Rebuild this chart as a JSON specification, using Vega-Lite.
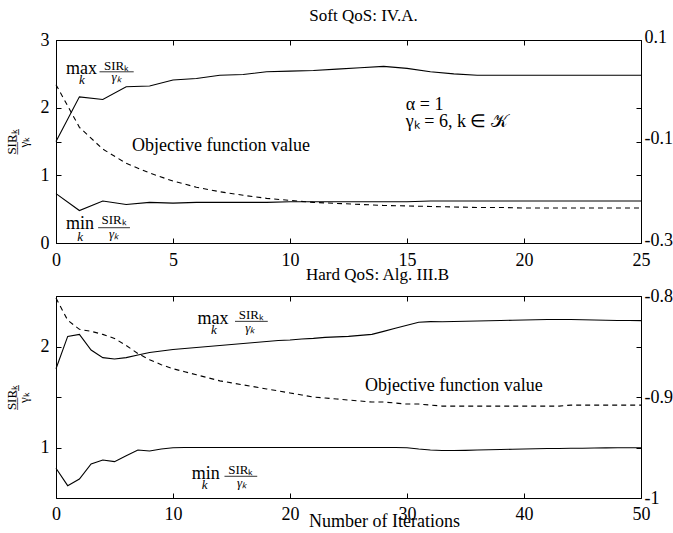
{
  "$schema": "https://vega.github.io/schema/vega-lite/v6.json",
  "background": "white",
  "padding": {"left": 4, "top": 6, "right": 0, "bottom": 0},
  "spacing": -5,
  "config": {
    "font": "Liberation Serif",
    "view": {"stroke": "black", "strokeWidth": 1},
    "axis": {
      "grid": false,
      "domain": false,
      "tickColor": "black",
      "tickSize": -5,
      "labelColor": "black",
      "labelFont": "Liberation Serif",
      "labelFontSize": 18,
      "labelPadding": 12,
      "titleFont": "Liberation Serif",
      "titleColor": "black",
      "titleFontWeight": "normal"
    },
    "title": {"font": "Liberation Serif", "fontSize": 17, "fontWeight": "normal", "color": "black", "offset": 3}
  },
  "datasets": {
    "topLines": [
      {"it": 0, "v": 1.50, "s": "max"}, {"it": 1, "v": 2.16, "s": "max"}, {"it": 2, "v": 2.12, "s": "max"}, {"it": 3, "v": 2.31, "s": "max"},
      {"it": 4, "v": 2.32, "s": "max"}, {"it": 5, "v": 2.41, "s": "max"}, {"it": 6, "v": 2.43, "s": "max"}, {"it": 7, "v": 2.48, "s": "max"},
      {"it": 8, "v": 2.49, "s": "max"}, {"it": 9, "v": 2.53, "s": "max"}, {"it": 10, "v": 2.54, "s": "max"}, {"it": 11, "v": 2.55, "s": "max"},
      {"it": 12, "v": 2.57, "s": "max"}, {"it": 13, "v": 2.59, "s": "max"}, {"it": 14, "v": 2.61, "s": "max"}, {"it": 15, "v": 2.58, "s": "max"},
      {"it": 16, "v": 2.53, "s": "max"}, {"it": 17, "v": 2.50, "s": "max"}, {"it": 18, "v": 2.48, "s": "max"}, {"it": 19, "v": 2.48, "s": "max"},
      {"it": 20, "v": 2.48, "s": "max"}, {"it": 21, "v": 2.48, "s": "max"}, {"it": 22, "v": 2.48, "s": "max"}, {"it": 23, "v": 2.48, "s": "max"},
      {"it": 24, "v": 2.48, "s": "max"}, {"it": 25, "v": 2.48, "s": "max"},
      {"it": 0, "v": 0.73, "s": "min"}, {"it": 1, "v": 0.48, "s": "min"}, {"it": 2, "v": 0.62, "s": "min"}, {"it": 3, "v": 0.57, "s": "min"},
      {"it": 4, "v": 0.60, "s": "min"}, {"it": 5, "v": 0.59, "s": "min"}, {"it": 6, "v": 0.60, "s": "min"}, {"it": 7, "v": 0.60, "s": "min"},
      {"it": 8, "v": 0.60, "s": "min"}, {"it": 9, "v": 0.60, "s": "min"}, {"it": 10, "v": 0.61, "s": "min"}, {"it": 11, "v": 0.61, "s": "min"},
      {"it": 12, "v": 0.61, "s": "min"}, {"it": 13, "v": 0.61, "s": "min"}, {"it": 14, "v": 0.61, "s": "min"}, {"it": 15, "v": 0.61, "s": "min"},
      {"it": 16, "v": 0.62, "s": "min"}, {"it": 17, "v": 0.62, "s": "min"}, {"it": 18, "v": 0.62, "s": "min"}, {"it": 19, "v": 0.62, "s": "min"},
      {"it": 20, "v": 0.62, "s": "min"}, {"it": 21, "v": 0.62, "s": "min"}, {"it": 22, "v": 0.62, "s": "min"}, {"it": 23, "v": 0.62, "s": "min"},
      {"it": 24, "v": 0.62, "s": "min"}, {"it": 25, "v": 0.62, "s": "min"}
    ],
    "topObj": [
      {"it": 0, "v": 0.012}, {"it": 1, "v": -0.072}, {"it": 2, "v": -0.115}, {"it": 3, "v": -0.143}, {"it": 4, "v": -0.162},
      {"it": 5, "v": -0.178}, {"it": 6, "v": -0.190}, {"it": 7, "v": -0.199}, {"it": 8, "v": -0.206}, {"it": 9, "v": -0.212},
      {"it": 10, "v": -0.216}, {"it": 11, "v": -0.220}, {"it": 12, "v": -0.222}, {"it": 13, "v": -0.224}, {"it": 14, "v": -0.226},
      {"it": 15, "v": -0.227}, {"it": 16, "v": -0.228}, {"it": 17, "v": -0.229}, {"it": 18, "v": -0.230}, {"it": 19, "v": -0.230},
      {"it": 20, "v": -0.231}, {"it": 21, "v": -0.231}, {"it": 22, "v": -0.231}, {"it": 23, "v": -0.231}, {"it": 24, "v": -0.231},
      {"it": 25, "v": -0.231}
    ],
    "botLines": [
      {"it": 0, "v": 1.78, "s": "max"}, {"it": 1, "v": 2.10, "s": "max"}, {"it": 2, "v": 2.12, "s": "max"}, {"it": 3, "v": 1.965, "s": "max"},
      {"it": 4, "v": 1.89, "s": "max"}, {"it": 5, "v": 1.876, "s": "max"}, {"it": 6, "v": 1.89, "s": "max"}, {"it": 7, "v": 1.915, "s": "max"},
      {"it": 8, "v": 1.94, "s": "max"}, {"it": 9, "v": 1.955, "s": "max"}, {"it": 10, "v": 1.97, "s": "max"}, {"it": 11, "v": 1.98, "s": "max"},
      {"it": 12, "v": 1.99, "s": "max"}, {"it": 13, "v": 2.00, "s": "max"}, {"it": 14, "v": 2.01, "s": "max"}, {"it": 15, "v": 2.02, "s": "max"},
      {"it": 16, "v": 2.03, "s": "max"}, {"it": 17, "v": 2.04, "s": "max"}, {"it": 18, "v": 2.05, "s": "max"}, {"it": 19, "v": 2.06, "s": "max"},
      {"it": 20, "v": 2.065, "s": "max"}, {"it": 21, "v": 2.075, "s": "max"}, {"it": 22, "v": 2.08, "s": "max"}, {"it": 23, "v": 2.09, "s": "max"},
      {"it": 24, "v": 2.095, "s": "max"}, {"it": 25, "v": 2.10, "s": "max"}, {"it": 26, "v": 2.11, "s": "max"}, {"it": 27, "v": 2.12, "s": "max"},
      {"it": 28, "v": 2.15, "s": "max"}, {"it": 29, "v": 2.18, "s": "max"}, {"it": 30, "v": 2.21, "s": "max"}, {"it": 31, "v": 2.24, "s": "max"},
      {"it": 32, "v": 2.246, "s": "max"}, {"it": 33, "v": 2.245, "s": "max"}, {"it": 34, "v": 2.247, "s": "max"}, {"it": 35, "v": 2.25, "s": "max"},
      {"it": 36, "v": 2.252, "s": "max"}, {"it": 37, "v": 2.255, "s": "max"}, {"it": 38, "v": 2.257, "s": "max"}, {"it": 39, "v": 2.26, "s": "max"},
      {"it": 40, "v": 2.262, "s": "max"}, {"it": 41, "v": 2.265, "s": "max"}, {"it": 42, "v": 2.267, "s": "max"}, {"it": 43, "v": 2.268, "s": "max"},
      {"it": 44, "v": 2.267, "s": "max"}, {"it": 45, "v": 2.265, "s": "max"}, {"it": 46, "v": 2.263, "s": "max"}, {"it": 47, "v": 2.26, "s": "max"},
      {"it": 48, "v": 2.258, "s": "max"}, {"it": 49, "v": 2.257, "s": "max"}, {"it": 50, "v": 2.256, "s": "max"},
      {"it": 0, "v": 0.794, "s": "min"}, {"it": 1, "v": 0.622, "s": "min"}, {"it": 2, "v": 0.688, "s": "min"}, {"it": 3, "v": 0.837, "s": "min"},
      {"it": 4, "v": 0.876, "s": "min"}, {"it": 5, "v": 0.86, "s": "min"}, {"it": 6, "v": 0.919, "s": "min"}, {"it": 7, "v": 0.975, "s": "min"},
      {"it": 8, "v": 0.965, "s": "min"}, {"it": 9, "v": 0.985, "s": "min"}, {"it": 10, "v": 0.998, "s": "min"}, {"it": 11, "v": 1.0, "s": "min"},
      {"it": 12, "v": 1.0, "s": "min"}, {"it": 13, "v": 1.0, "s": "min"}, {"it": 14, "v": 1.0, "s": "min"}, {"it": 15, "v": 1.0, "s": "min"},
      {"it": 16, "v": 1.0, "s": "min"}, {"it": 17, "v": 1.0, "s": "min"}, {"it": 18, "v": 1.0, "s": "min"}, {"it": 19, "v": 1.0, "s": "min"},
      {"it": 20, "v": 1.0, "s": "min"}, {"it": 21, "v": 1.0, "s": "min"}, {"it": 22, "v": 1.0, "s": "min"}, {"it": 23, "v": 1.0, "s": "min"},
      {"it": 24, "v": 1.0, "s": "min"}, {"it": 25, "v": 1.0, "s": "min"}, {"it": 26, "v": 1.0, "s": "min"}, {"it": 27, "v": 1.0, "s": "min"},
      {"it": 28, "v": 1.0, "s": "min"}, {"it": 29, "v": 1.0, "s": "min"}, {"it": 30, "v": 0.998, "s": "min"}, {"it": 31, "v": 0.985, "s": "min"},
      {"it": 32, "v": 0.975, "s": "min"}, {"it": 33, "v": 0.97, "s": "min"}, {"it": 34, "v": 0.97, "s": "min"}, {"it": 35, "v": 0.972, "s": "min"},
      {"it": 36, "v": 0.975, "s": "min"}, {"it": 37, "v": 0.978, "s": "min"}, {"it": 38, "v": 0.98, "s": "min"}, {"it": 39, "v": 0.983, "s": "min"},
      {"it": 40, "v": 0.985, "s": "min"}, {"it": 41, "v": 0.988, "s": "min"}, {"it": 42, "v": 0.99, "s": "min"}, {"it": 43, "v": 0.99, "s": "min"},
      {"it": 44, "v": 0.992, "s": "min"}, {"it": 45, "v": 0.993, "s": "min"}, {"it": 46, "v": 0.995, "s": "min"}, {"it": 47, "v": 0.996, "s": "min"},
      {"it": 48, "v": 0.997, "s": "min"}, {"it": 49, "v": 0.998, "s": "min"}, {"it": 50, "v": 0.998, "s": "min"}
    ],
    "botObj": [
      {"it": 0, "v": -0.802}, {"it": 1, "v": -0.824}, {"it": 2, "v": -0.833}, {"it": 3, "v": -0.835}, {"it": 4, "v": -0.838},
      {"it": 5, "v": -0.842}, {"it": 6, "v": -0.849}, {"it": 7, "v": -0.857}, {"it": 8, "v": -0.863}, {"it": 9, "v": -0.868},
      {"it": 10, "v": -0.872}, {"it": 11, "v": -0.875}, {"it": 12, "v": -0.878}, {"it": 13, "v": -0.881}, {"it": 14, "v": -0.884},
      {"it": 15, "v": -0.886}, {"it": 16, "v": -0.888}, {"it": 17, "v": -0.890}, {"it": 18, "v": -0.892}, {"it": 19, "v": -0.894},
      {"it": 20, "v": -0.896}, {"it": 21, "v": -0.898}, {"it": 22, "v": -0.900}, {"it": 23, "v": -0.901}, {"it": 24, "v": -0.902},
      {"it": 25, "v": -0.903}, {"it": 26, "v": -0.904}, {"it": 27, "v": -0.905}, {"it": 28, "v": -0.905}, {"it": 29, "v": -0.906},
      {"it": 30, "v": -0.907}, {"it": 31, "v": -0.907}, {"it": 32, "v": -0.908}, {"it": 33, "v": -0.909}, {"it": 34, "v": -0.909},
      {"it": 35, "v": -0.909}, {"it": 36, "v": -0.909}, {"it": 37, "v": -0.909}, {"it": 38, "v": -0.909}, {"it": 39, "v": -0.909},
      {"it": 40, "v": -0.909}, {"it": 41, "v": -0.909}, {"it": 42, "v": -0.909}, {"it": 43, "v": -0.909}, {"it": 44, "v": -0.908},
      {"it": 45, "v": -0.908}, {"it": 46, "v": -0.908}, {"it": 47, "v": -0.908}, {"it": 48, "v": -0.908}, {"it": 49, "v": -0.908},
      {"it": 50, "v": -0.908}
    ],
    "topAnn": [
      {"x": 0.43, "y": 2.50, "t": "max", "role": "op"},
      {"x": 0.43, "y": 0.207, "t": "min", "role": "op"},
      {"x": 3.25, "y": 1.36, "t": "Objective function value", "role": "op"},
      {"x": 14.95, "y": 1.97, "t": "α = 1", "role": "op"},
      {"x": 14.95, "y": 1.71, "t": "γₖ = 6, k ∈ 𝒦", "role": "op"},
      {"x": 2.59, "y": 2.556, "t": "SIRₖ", "role": "num"},
      {"x": 2.48, "y": 0.281, "t": "SIRₖ", "role": "num"},
      {"x": 1.11, "y": 2.35, "t": "k", "role": "it"},
      {"x": 2.59, "y": 2.40, "t": "γₖ", "role": "it"},
      {"x": 1.03, "y": 0.03, "t": "k", "role": "it"},
      {"x": 2.48, "y": 0.079, "t": "γₖ", "role": "it"}
    ],
    "topBars": [
      {"x": 1.86, "x2": 3.32, "y": 2.53},
      {"x": 1.80, "x2": 3.16, "y": 0.226}
    ],
    "botAnn": [
      {"x": 12.1, "y": 2.223, "t": "max", "role": "op"},
      {"x": 11.6, "y": 0.688, "t": "min", "role": "op"},
      {"x": 26.4, "y": 1.56, "t": "Objective function value", "role": "op"},
      {"x": 16.7, "y": 2.272, "t": "SIRₖ", "role": "num"},
      {"x": 15.8, "y": 0.738, "t": "SIRₖ", "role": "num"},
      {"x": 13.5, "y": 2.124, "t": "k", "role": "it"},
      {"x": 16.6, "y": 2.143, "t": "γₖ", "role": "it"},
      {"x": 12.7, "y": 0.589, "t": "k", "role": "it"},
      {"x": 15.9, "y": 0.609, "t": "γₖ", "role": "it"}
    ],
    "botBars": [
      {"x": 15.3, "x2": 18.1, "y": 2.249},
      {"x": 14.4, "x2": 17.2, "y": 0.715}
    ]
  },
  "vconcat": [
    {
      "title": {"text": "Soft QoS: IV.A.", "dx": 15},
      "width": 585,
      "height": 203,
      "layer": [
        {
          "data": {"name": "topLines"},
          "mark": {"type": "line", "color": "black", "strokeWidth": 1.1},
          "encoding": {
            "x": {"field": "it", "type": "quantitative", "scale": {"domain": [0, 25], "nice": false},
                  "axis": {"orient": "bottom", "values": [0, 5, 10, 15, 20, 25], "title": null, "labelPadding": 13, "labelFlush": false}},
            "y": {"field": "v", "type": "quantitative", "scale": {"domain": [0, 3], "nice": false, "zero": false},
                  "axis": {"orient": "left", "values": [0, 1, 2, 3], "title": ["S̲I̲R̲ₖ̲", "γₖ"], "titleFontSize": 13, "titleLineHeight": 12, "titlePadding": 10, "labelFlush": false}},
            "detail": {"field": "s"}
          }
        },
        {
          "data": {"name": "topObj"},
          "mark": {"type": "line", "color": "black", "strokeWidth": 1.1, "strokeDash": [5, 4]},
          "encoding": {
            "x": {"field": "it", "type": "quantitative", "scale": {"domain": [0, 25], "nice": false}, "axis": null},
            "y": {"field": "v", "type": "quantitative", "scale": {"domain": [-0.3, 0.1], "nice": false, "zero": false},
                  "axis": {"orient": "right", "values": [-0.3, -0.1, 0.1], "title": null, "labelFlush": false, "labelPadding": 8, "labelBaseline": "alphabetic", "labelOffset": 2,
                           "labelExpr": "replace(datum.label, '\u2212', '-')"}}
          }
        },
        {
          "data": {"name": "topLines"},
          "mark": {"type": "line", "opacity": 0},
          "encoding": {
            "x": {"field": "it", "type": "quantitative", "scale": {"domain": [0, 25], "nice": false},
                  "axis": {"orient": "top", "values": [0, 5, 10, 15, 20, 25], "labels": false, "title": null}},
            "y": {"field": "v", "type": "quantitative", "scale": {"domain": [0, 3], "nice": false, "zero": false},
                  "axis": {"orient": "right", "values": [0, 1, 2, 3], "labels": false, "title": null}},
            "detail": {"field": "s"}
          }
        },
        {
          "data": {"name": "topObj"},
          "mark": {"type": "line", "opacity": 0},
          "encoding": {
            "x": {"field": "it", "type": "quantitative", "scale": {"domain": [0, 25], "nice": false}, "axis": null},
            "y": {"field": "v", "type": "quantitative", "scale": {"domain": [-0.3, 0.1], "nice": false, "zero": false},
                  "axis": {"orient": "left", "values": [-0.3, -0.1, 0.1], "labels": false, "title": null}}
          }
        },
        {
          "data": {"name": "topAnn"},
          "transform": [{"filter": "datum.role == 'op'"}],
          "mark": {"type": "text", "align": "left", "baseline": "alphabetic", "fontSize": 18, "color": "black", "font": "Liberation Serif"},
          "encoding": {
            "x": {"field": "x", "type": "quantitative", "scale": {"domain": [0, 25], "nice": false}, "axis": null},
            "y": {"field": "y", "type": "quantitative", "scale": {"domain": [0, 3], "nice": false, "zero": false}, "axis": null},
            "text": {"field": "t"}
          }
        },
        {
          "data": {"name": "topAnn"},
          "transform": [{"filter": "datum.role == 'num'"}],
          "mark": {"type": "text", "align": "center", "baseline": "alphabetic", "fontSize": 13, "color": "black", "font": "Liberation Serif"},
          "encoding": {
            "x": {"field": "x", "type": "quantitative", "scale": {"domain": [0, 25], "nice": false}, "axis": null},
            "y": {"field": "y", "type": "quantitative", "scale": {"domain": [0, 3], "nice": false, "zero": false}, "axis": null},
            "text": {"field": "t"}
          }
        },
        {
          "data": {"name": "topAnn"},
          "transform": [{"filter": "datum.role == 'it'"}],
          "mark": {"type": "text", "align": "center", "baseline": "alphabetic", "fontSize": 13, "fontStyle": "italic", "color": "black", "font": "Liberation Serif"},
          "encoding": {
            "x": {"field": "x", "type": "quantitative", "scale": {"domain": [0, 25], "nice": false}, "axis": null},
            "y": {"field": "y", "type": "quantitative", "scale": {"domain": [0, 3], "nice": false, "zero": false}, "axis": null},
            "text": {"field": "t"}
          }
        },
        {
          "data": {"name": "topBars"},
          "mark": {"type": "rule", "color": "black", "strokeWidth": 0.8},
          "encoding": {
            "x": {"field": "x", "type": "quantitative", "scale": {"domain": [0, 25], "nice": false}, "axis": null},
            "x2": {"field": "x2"},
            "y": {"field": "y", "type": "quantitative", "scale": {"domain": [0, 3], "nice": false, "zero": false}, "axis": null}
          }
        }
      ],
      "resolve": {"scale": {"y": "independent"}, "axis": {"x": "independent", "y": "independent"}}
    },
    {
      "title": {"text": "Hard QoS: Alg. III.B", "dx": 29},
      "width": 585,
      "height": 202,
      "layer": [
        {
          "data": {"name": "botLines"},
          "mark": {"type": "line", "color": "black", "strokeWidth": 1.1},
          "encoding": {
            "x": {"field": "it", "type": "quantitative", "scale": {"domain": [0, 50], "nice": false},
                  "axis": {"orient": "bottom", "values": [0, 10, 20, 30, 40, 50], "title": "Number of Iterations", "titleFontSize": 18, "titlePadding": -11, "titleX": 328, "labelPadding": 12, "labelFlush": false}},
            "y": {"field": "v", "type": "quantitative", "scale": {"domain": [0.5, 2.5], "nice": false, "zero": false},
                  "axis": {"orient": "left", "values": [1, 2], "title": ["S̲I̲R̲ₖ̲", "γₖ"], "titleFontSize": 13, "titleLineHeight": 12, "titlePadding": 10, "labelFlush": false}},
            "detail": {"field": "s"}
          }
        },
        {
          "data": {"name": "botObj"},
          "mark": {"type": "line", "color": "black", "strokeWidth": 1.1, "strokeDash": [5, 4]},
          "encoding": {
            "x": {"field": "it", "type": "quantitative", "scale": {"domain": [0, 50], "nice": false}, "axis": null},
            "y": {"field": "v", "type": "quantitative", "scale": {"domain": [-1, -0.8], "nice": false, "zero": false},
                  "axis": {"orient": "right", "values": [-1, -0.9, -0.8], "title": null, "labelFlush": false, "labelPadding": 8,
                           "labelExpr": "datum.value == -1 ? '-1' : replace(format(datum.value, '.1f'), '\u2212', '-')"}}
          }
        },
        {
          "data": {"name": "botLines"},
          "mark": {"type": "line", "opacity": 0},
          "encoding": {
            "x": {"field": "it", "type": "quantitative", "scale": {"domain": [0, 50], "nice": false},
                  "axis": {"orient": "top", "values": [0, 10, 20, 30, 40, 50], "labels": false, "title": null}},
            "y": {"field": "v", "type": "quantitative", "scale": {"domain": [0.5, 2.5], "nice": false, "zero": false},
                  "axis": {"orient": "right", "values": [1, 2], "labels": false, "title": null}},
            "detail": {"field": "s"}
          }
        },
        {
          "data": {"name": "botObj"},
          "mark": {"type": "line", "opacity": 0},
          "encoding": {
            "x": {"field": "it", "type": "quantitative", "scale": {"domain": [0, 50], "nice": false}, "axis": null},
            "y": {"field": "v", "type": "quantitative", "scale": {"domain": [-1, -0.8], "nice": false, "zero": false},
                  "axis": {"orient": "left", "values": [-1, -0.9, -0.8], "labels": false, "title": null}}
          }
        },
        {
          "data": {"name": "botAnn"},
          "transform": [{"filter": "datum.role == 'op'"}],
          "mark": {"type": "text", "align": "left", "baseline": "alphabetic", "fontSize": 18, "color": "black", "font": "Liberation Serif"},
          "encoding": {
            "x": {"field": "x", "type": "quantitative", "scale": {"domain": [0, 50], "nice": false}, "axis": null},
            "y": {"field": "y", "type": "quantitative", "scale": {"domain": [0.5, 2.5], "nice": false, "zero": false}, "axis": null},
            "text": {"field": "t"}
          }
        },
        {
          "data": {"name": "botAnn"},
          "transform": [{"filter": "datum.role == 'num'"}],
          "mark": {"type": "text", "align": "center", "baseline": "alphabetic", "fontSize": 13, "color": "black", "font": "Liberation Serif"},
          "encoding": {
            "x": {"field": "x", "type": "quantitative", "scale": {"domain": [0, 50], "nice": false}, "axis": null},
            "y": {"field": "y", "type": "quantitative", "scale": {"domain": [0.5, 2.5], "nice": false, "zero": false}, "axis": null},
            "text": {"field": "t"}
          }
        },
        {
          "data": {"name": "botAnn"},
          "transform": [{"filter": "datum.role == 'it'"}],
          "mark": {"type": "text", "align": "center", "baseline": "alphabetic", "fontSize": 13, "fontStyle": "italic", "color": "black", "font": "Liberation Serif"},
          "encoding": {
            "x": {"field": "x", "type": "quantitative", "scale": {"domain": [0, 50], "nice": false}, "axis": null},
            "y": {"field": "y", "type": "quantitative", "scale": {"domain": [0.5, 2.5], "nice": false, "zero": false}, "axis": null},
            "text": {"field": "t"}
          }
        },
        {
          "data": {"name": "botBars"},
          "mark": {"type": "rule", "color": "black", "strokeWidth": 0.8},
          "encoding": {
            "x": {"field": "x", "type": "quantitative", "scale": {"domain": [0, 50], "nice": false}, "axis": null},
            "x2": {"field": "x2"},
            "y": {"field": "y", "type": "quantitative", "scale": {"domain": [0.5, 2.5], "nice": false, "zero": false}, "axis": null}
          }
        }
      ],
      "resolve": {"scale": {"y": "independent"}, "axis": {"x": "independent", "y": "independent"}}
    }
  ]
}
